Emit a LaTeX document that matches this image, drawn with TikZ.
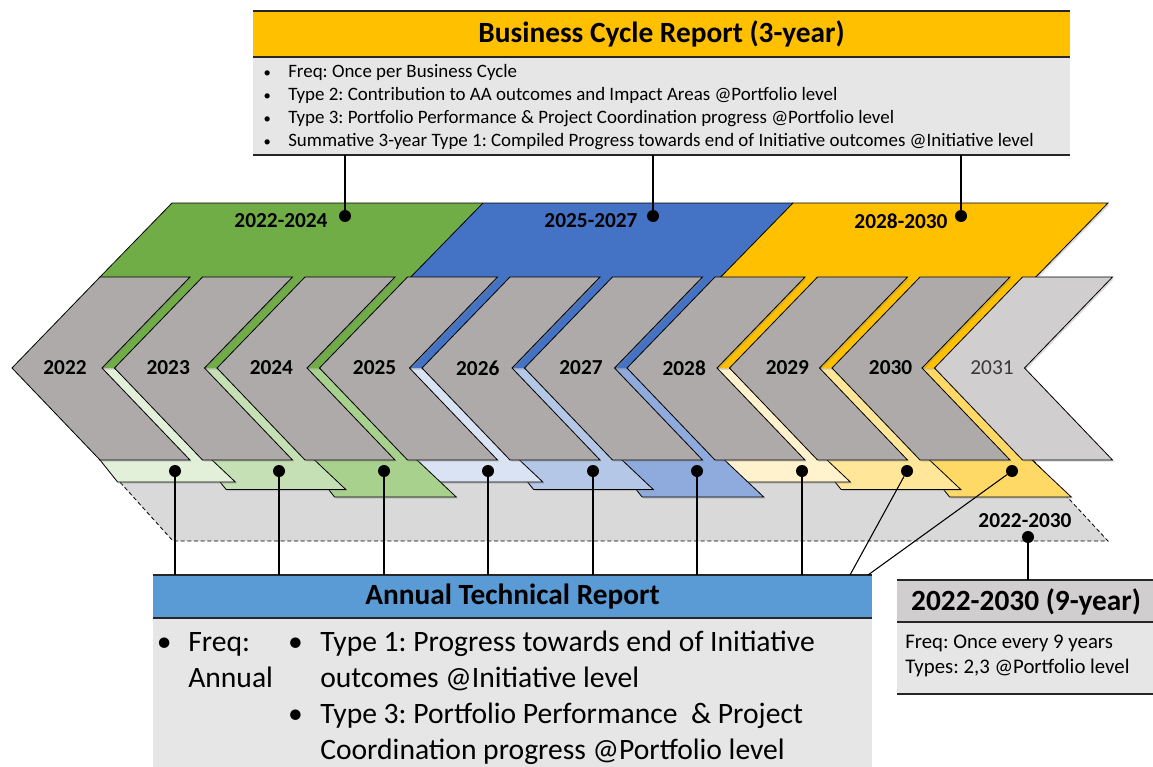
\documentclass[tikz,border=0pt]{standalone}
\usepackage{fontspec}
\setmainfont{Carlito}
\usetikzlibrary{shadows}
\frenchspacing
\definecolor{bandG}{HTML}{70AD47}
\definecolor{bandB}{HTML}{4472C4}
\definecolor{bandY}{HTML}{FFC000}
\definecolor{G1}{HTML}{E2F0D9}
\definecolor{G2}{HTML}{C5E0B4}
\definecolor{G3}{HTML}{A9D18E}
\definecolor{B1}{HTML}{DAE3F3}
\definecolor{B2}{HTML}{B4C7E7}
\definecolor{B3}{HTML}{8FAADC}
\definecolor{Y1}{HTML}{FFF2CC}
\definecolor{Y2}{HTML}{FFE699}
\definecolor{Y3}{HTML}{FFD966}
\definecolor{chev}{HTML}{AEAAAA}
\definecolor{chevL}{HTML}{D0CECE}
\definecolor{band9}{HTML}{D9D9D9}
\definecolor{bodygray}{HTML}{E7E6E6}
\definecolor{annblue}{HTML}{5B9BD5}
\definecolor{ninegray}{HTML}{D0CECE}
\definecolor{yrgray}{HTML}{3B3838}
\newcommand{\smbul}{{\fontsize{11}{11}\selectfont\textbullet}}
\begin{document}
\begin{tikzpicture}[x=0.75pt,y=-0.75pt,
  edge/.style={draw=black,line width=0.6pt,line join=miter},
  sh/.style={drop shadow={opacity=0.3,shadow xshift=1.2pt,shadow yshift=-1.2pt}},
  dot/.style={circle,fill=black,inner sep=0pt,minimum size=9pt},
  yr/.style={font=\fontsize{16}{16}\selectfont\bfseries,inner sep=0pt},
  conn/.style={draw=black,line width=0.8pt},
  rulebar/.style={line width=1.8pt,draw=black!85},
  boxpart/.style={inner sep=0pt,outer sep=0pt,anchor=north west},
  small/.style={font=\fontsize{14.2}{14.2}\selectfont,inner sep=0pt,anchor=base west},
  big/.style={font=\fontsize{22.2}{22.2}\selectfont,inner sep=0pt,anchor=base west},
  mid/.style={font=\fontsize{15.6}{15.6}\selectfont,inner sep=0pt,anchor=base west},
  title/.style={font=\fontsize{22}{22}\selectfont\bfseries,inner sep=0pt},
]
\useasboundingbox (0,0) rectangle (1153,767);

% 9-year band (dashed)
\filldraw[fill=band9, draw=black, line width=0.6pt, dash pattern=on 3pt off 2pt]
  (100,460) -- (1033,460) -- (1108,541) -- (173,541) -- cycle;

% annual light shapes
\foreach \k/\c in {8/Y3,7/Y2,6/Y1,5/B3,4/B2,3/B1,2/G3,1/G2,0/G1}{
  \pgfmathsetmacro{\X}{102.5*\k}
  \pgfmathsetmacro{\yb}{482+7.5*mod(\k,3)}
  \pgfmathsetmacro{\xr}{114.5+\X+1.06*(\yb-368)}
  \pgfmathsetmacro{\xl}{100+\X+0.8*(\yb-460)}
  \fill[fill=\c, sh] (100+\X,368) -- (114.5+\X,368) -- (\xr,\yb) -- (\xl,\yb) -- (100+\X,460) -- cycle;
  \draw[edge] (114.5+\X,368) -- (\xr,\yb) -- (\xl,\yb) -- (100+\X,460);
}

% 3-year bands
\fill[fill=bandG, sh] (13,368) -- (172,203) -- (483,203) -- (322,368) -- cycle;
\fill[fill=bandB, sh] (322,368) -- (483,203) -- (793,203) -- (632,368) -- cycle;
\fill[fill=bandY, sh] (632,368) -- (793,203) -- (1108,203) -- (947,368) -- cycle;
\draw[edge] (100,277) -- (172,203) -- (1108,203) -- (947,368);
\draw[edge] (483,203) -- (322,368);
\draw[edge] (793,203) -- (632,368);

% year chevrons
\foreach \k/\c in {0/chev,1/chev,2/chev,3/chev,4/chev,5/chev,6/chev,7/chev,8/chev,9/chevL}{
  \pgfmathsetmacro{\X}{102.5*\k}
  \filldraw[fill=\c, edge, sh] (12+\X,368) -- (100+\X,277) -- (190+\X,277) -- (102+\X,368) -- (190+\X,460) -- (100+\X,460) -- cycle;
}

% year labels
\foreach \k/\t in {0/2022,1/2023,2/2024,3/2025,4/2026,5/2027,6/2028,7/2029,8/2030}{
  \node[yr] (y\t) at (65+103.2*\k,368) {\t};
}
\node[font=\fontsize{16}{16}\selectfont, text=yrgray, inner sep=0pt] (y2031) at (992,368) {2031};

% band labels and dots
\node[yr] (lG) at (281,221) {2022-2024};
\node[yr] (lB) at (591,221) {2025-2027};
\node[yr] (lY) at (901,221) {2028-2030};
\node[yr] (l9) at (1025,521) {2022-2030};
\node[dot] (bd1) at (345,216) {};
\node[dot] (bd2) at (653,216) {};
\node[dot] (bd3) at (961,216) {};
\node[dot] (n9) at (1028,537) {};

% annual dots
\foreach \i/\x in {1/175,2/279,3/384,4/488,5/593,6/697,7/802,8/907,9/1012}{
  \node[dot] (d\i) at (\x,471) {};
}

% Business cycle box
\node[boxpart, fill=bandY, minimum width=612.75pt, minimum height=34.5pt] (tophead) at (253,11) {};
\node[boxpart, fill=bodygray, minimum width=612.75pt, minimum height=73.5pt] (topbody) at (253,57) {};
\node[title] (toptitle) at (661.5,34) {Business Cycle Report (3-year)};
\draw[rulebar] (tophead.north west) -- (tophead.north east);
\draw[rulebar] (tophead.south west) -- (tophead.south east);
\draw[rulebar] (topbody.south west) -- (topbody.south east);
\node[small] (tb1) at (288,78) {\llap{\smbul\hspace{13pt}}Freq: Once per Business Cycle};
\node[small] (tb2) at (288,101) {\llap{\smbul\hspace{13pt}}Type 2: Contribution to AA outcomes and Impact Areas @Portfolio level};
\node[small] (tb3) at (288,123) {\llap{\smbul\hspace{13pt}}Type 3: Portfolio Performance \& Project Coordination progress @Portfolio level};
\node[small] (tb4) at (288,146) {\llap{\smbul\hspace{13pt}}Summative 3-year Type 1: Compiled Progress towards end of Initiative outcomes @Initiative level};

% Annual technical report box
\node[boxpart, fill=annblue, minimum width=539.25pt, minimum height=32.25pt] (annhead) at (153,575) {};
\node[boxpart, fill=bodygray, minimum width=539.25pt, minimum height=112pt] (annbody) at (153,618) {};
\node[title] (anntitle) at (512.5,597) {Annual Technical Report};
\draw[rulebar] (annhead.north west) -- (annhead.north east);
\draw[rulebar] (annhead.south west) -- (annhead.south east);
\node[big] (ab1) at (188,651) {\llap{\textbullet\hspace{12.5pt}}Freq:};
\node[big] (ab2) at (188,687) {Annual};
\node[big] (ab3) at (320,651) {\llap{\textbullet\hspace{13pt}}Type 1: Progress towards end of Initiative};
\node[big] (ab4) at (320,687) {outcomes @Initiative level};
\node[big] (ab5) at (320,723) {\llap{\textbullet\hspace{13pt}}Type 3: Portfolio Performance\ \ \& Project};
\node[big] (ab6) at (320,759) {Coordination progress @Portfolio level};

% 9-year box
\node[boxpart, fill=ninegray, minimum width=193pt, minimum height=31.5pt] (ninehead) at (897,580) {};
\node[boxpart, fill=bodygray, minimum width=193pt, minimum height=54pt] (ninebody) at (897,622) {};
\node[title] (ninetitle) at (1026,602) {2022-2030 (9-year)};
\draw[rulebar] (ninehead.north west) -- (ninehead.north east);
\draw[rulebar] (ninehead.south west) -- (ninehead.south east);
\draw[rulebar] (ninebody.south west) -- (ninebody.south east);
\node[mid] (nb1) at (905,648) {Freq: Once every 9 years};
\node[mid] (nb2) at (905,673) {Types: 2,3 @Portfolio level};

% connectors
\draw[conn] (bd1) -- (bd1 |- topbody.south);
\draw[conn] (bd2) -- (bd2 |- topbody.south);
\draw[conn] (bd3) -- (bd3 |- topbody.south);
\foreach \i in {1,...,7}{
  \draw[conn] (d\i) -- (d\i |- annhead.north);
}
\coordinate (aj1) at (850,575);
\coordinate (aj2) at (868,575);
\draw[conn] (d8) -- (aj1);
\draw[conn] (d9) -- (aj2);
\draw[conn] (n9) -- (n9 |- ninehead.north);
\end{tikzpicture}
\end{document}
